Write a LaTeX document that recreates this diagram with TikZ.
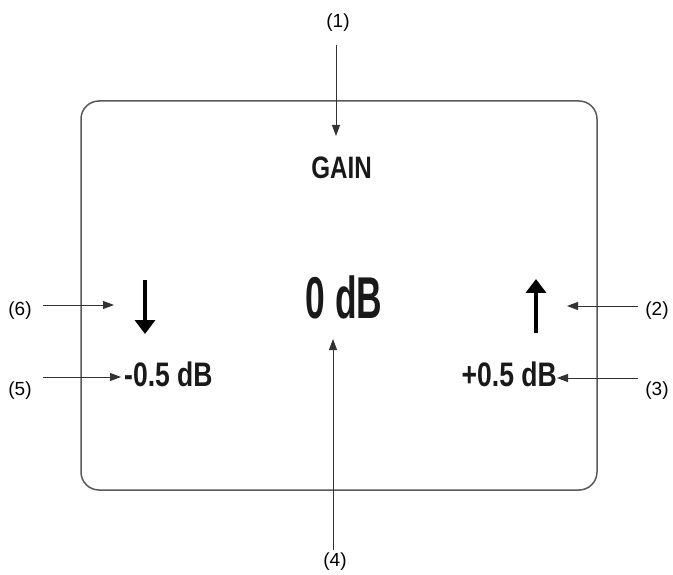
\documentclass[tikz,border=0pt]{standalone}
\usepackage{fontspec}
\usetikzlibrary{arrows.meta}
\newfontfamily\condA[FakeStretch=0.6,UprightFont=*-Bold]{Liberation Sans}
\newfontfamily\condB[FakeStretch=0.78,UprightFont=*-Bold]{Liberation Sans}
\newfontfamily\calfont{Liberation Sans}
\tikzset{
  panel/.style={draw=black!65, line width=1.5pt, rounded corners=18pt},
  calltext/.style={font=\calfont\fontsize{19}{19}\selectfont, inner sep=0pt},
  disp/.style={inner sep=0pt, text=black!90},
  callout/.style={draw=black!80, line width=0.9pt, -{Triangle[length=11pt,width=8pt]}},
  bigarrow/.style={draw=black, line width=3.4pt, -{Triangle[length=14pt,width=20pt]}, shorten >=-1pt},
}
\begin{document}
\begin{tikzpicture}[x=1pt,y=-1pt]
\useasboundingbox (0,0) rectangle (673,575);
% panel
\draw[panel] (81,101) rectangle (597,490);
% display texts
\node[disp, anchor=base, font=\condB\fontsize{31}{31}\selectfont] (gain) at (341.5,179) {GAIN};
\node[disp, anchor=base, font=\condA\fontsize{59}{59}\selectfont] (zero) at (344,318) {0 dB};
\node[disp, anchor=base west, font=\condB\fontsize{34}{34}\selectfont] (minus) at (124,386) {-0.5 dB};
\node[disp, anchor=base east, font=\condB\fontsize{34}{34}\selectfont] (plus) at (557,386) {+0.5 dB};
% big arrows
\coordinate (dntop) at (145,280);
\coordinate (dnbot) at (145,333);
\coordinate (uptop) at (536,280);
\coordinate (upbot) at (536,333);
\draw[bigarrow] (dntop) -- (dnbot);
\draw[bigarrow] (upbot) -- (uptop);
% callout labels
\node[calltext] (n1) at (338,23) {(1)};
\node[calltext] (n2) at (657,311) {(2)};
\node[calltext] (n3) at (657,391) {(3)};
\node[calltext] (n4) at (335,562) {(4)};
\node[calltext] (n5) at (20,391) {(5)};
\node[calltext] (n6) at (20,311) {(6)};
% tips
\coordinate (t1) at (336,136);
\coordinate (t2) at (567,306);
\coordinate (t3) at (557,378);
\coordinate (t4) at (333,339);
\coordinate (t5) at (121,377);
\coordinate (t6) at (114,305);
% start points
\coordinate (s1) at (336,45);
\coordinate (s2) at (638,306);
\coordinate (s3) at (638,378);
\coordinate (s4) at (333,550);
\coordinate (s5) at (43,377);
\coordinate (s6) at (43,305);
\draw[callout] (s1) -- (t1);
\draw[callout] (s2) -- (t2);
\draw[callout] (s3) -- (t3);
\draw[callout] (s4) -- (t4);
\draw[callout] (s5) -- (t5);
\draw[callout] (s6) -- (t6);
\end{tikzpicture}
\end{document}
